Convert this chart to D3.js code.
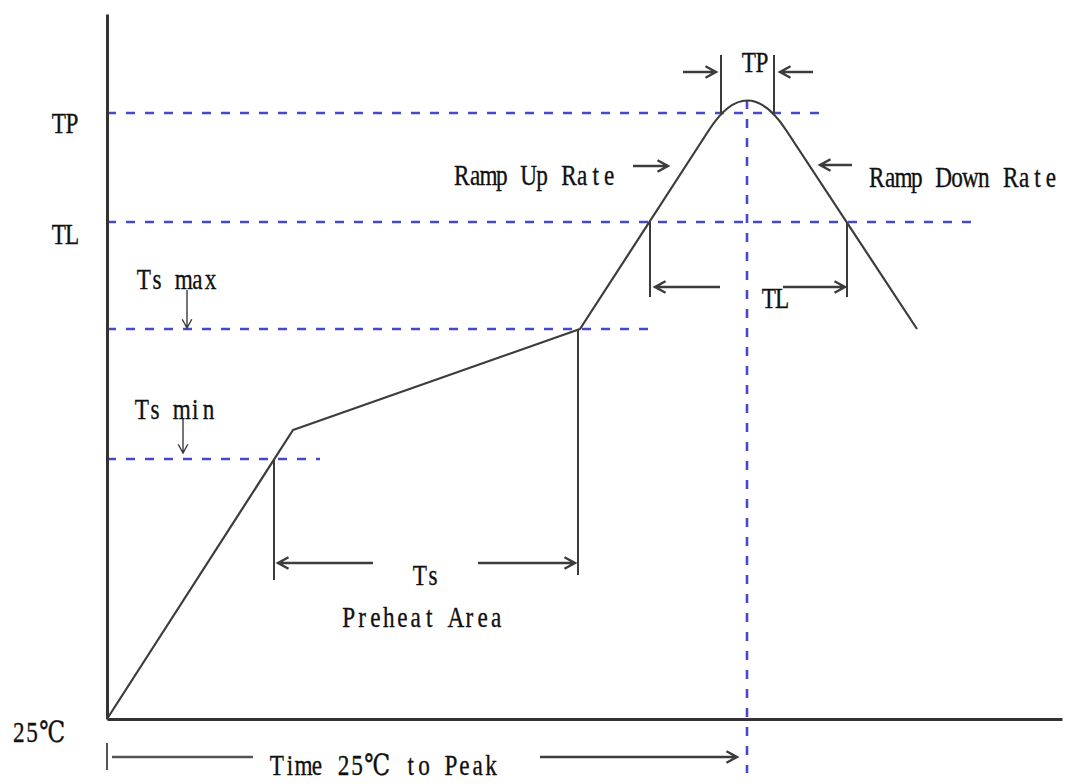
<!DOCTYPE html>
<html>
<head>
<meta charset="utf-8">
<script src="https://cdn.jsdelivr.net/npm/d3@7"></script>
<style>
  body { margin: 0; background: #fff; }
  text { font-family: "Liberation Serif", "DejaVu Serif", serif; fill: #111; stroke: #111; stroke-width: 0.35px; }
</style>
</head>
<body>
<script>
// reflow profile, in chart units (time right of origin, temperature above 25C line)
var levelNames = ["Ts min", "Ts max", "TL", "TP"];
var levelValues = [260, 390, 497, 606];
var levelDashEnd = [213, 548, 868, 713];

var profileTime = [0, 186, 473, 602, 640, 679, 810];
var profileTemp = [0, 289, 390, 589, 648, 589, 390];
var peakIndex = 4; // control point of the rounded top

var peakTime = 640, peakTemp = 619, peakDashBottom = -54;

// time marks dropped from the profile: [time, top, bottom]
var markTimes = [167, 471, 543, 740, 614, 667];
var markFrom = [260, 390, 497, 497, 606, 606];
var markTo = [139, 144, 422, 422, 664, 664];

// horizontal arrows: from, to (head), level
var arrowFrom = [266, 371, 613, 676, 576, 706, 526, 745, 433];
var arrowTo = [171, 468, 548, 738, 609, 673, 561, 713, 630];
var arrowAt = [156, 156, 432, 432, 647, 647, 553, 554, -38];

// small down arrows under "Ts max" / "Ts min"
var downTime = [80, 76];
var downFrom = [429, 300];
var downTo = [391, 266];

var width = 1066, height = 784;
var svg = d3.select('body').append('svg')
    .attr('width', width)
    .attr('height', height);

var x = d3.scaleLinear().domain([0, 955]).range([107, 1062]);
var y = d3.scaleLinear().domain([0, 705]).range([719, 14]);

var blue = '#4848cc', ink = '#3c3c3c';

// dashed level lines
svg.selectAll('.level')
    .data(levelValues)
    .enter().append('line')
    .attr('x1', x(0))
    .attr('x2', function(d, i) { return x(levelDashEnd[i]); })
    .attr('y1', function(d) { return y(d); })
    .attr('y2', function(d) { return y(d); })
    .attr('stroke', blue)
    .attr('stroke-width', 2.6)
    .attr('stroke-dasharray', '9,10');

// dashed line through the peak
svg.append('line')
    .attr('x1', x(peakTime)).attr('x2', x(peakTime))
    .attr('y1', y(peakTemp)).attr('y2', y(peakDashBottom))
    .attr('stroke', blue)
    .attr('stroke-width', 2.6)
    .attr('stroke-dasharray', '9,10');

// axes
var yAxis = d3.axisLeft(y).ticks(0).tickSizeOuter(0);
var xAxis = d3.axisBottom(x).ticks(0).tickSizeOuter(0);
svg.append('g').attr('transform', 'translate(' + x(0) + ',0)').call(yAxis);
svg.append('g').attr('transform', 'translate(0,' + y(0) + ')').call(xAxis);
svg.selectAll('.domain').attr('stroke', '#333').attr('stroke-width', 3);

// profile: straight ramps, rounded peak
var p = d3.path();
p.moveTo(x(profileTime[0]), y(profileTemp[0]));
for (var i = 1; i < profileTime.length; i++) {
    if (i == peakIndex) {
        p.quadraticCurveTo(x(profileTime[i]), y(profileTemp[i]),
            x(profileTime[i + 1]), y(profileTemp[i + 1]));
        i++;
    } else {
        p.lineTo(x(profileTime[i]), y(profileTemp[i]));
    }
}
svg.append('path')
    .attr('d', p.toString())
    .attr('fill', 'none')
    .attr('stroke', ink)
    .attr('stroke-width', 2.2)
    .attr('stroke-linejoin', 'round');

// vertical time marks
svg.selectAll('.mark')
    .data(markTimes)
    .enter().append('line')
    .attr('x1', function(d) { return x(d); })
    .attr('x2', function(d) { return x(d); })
    .attr('y1', function(d, i) { return y(markFrom[i]); })
    .attr('y2', function(d, i) { return y(markTo[i]); })
    .attr('stroke', ink)
    .attr('stroke-width', 2);

function arrowPath(x1, y1, x2, y2, head) {
    var a = Math.atan2(y2 - y1, x2 - x1);
    var q = d3.path();
    q.moveTo(x1, y1);
    q.lineTo(x2, y2);
    q.moveTo(x2 - head * Math.cos(a - 0.5), y2 - head * Math.sin(a - 0.5));
    q.lineTo(x2, y2);
    q.lineTo(x2 - head * Math.cos(a + 0.5), y2 - head * Math.sin(a + 0.5));
    return q.toString();
}

svg.selectAll('.harrow')
    .data(arrowFrom)
    .enter().append('path')
    .attr('d', function(d, i) {
        return arrowPath(x(d), y(arrowAt[i]), x(arrowTo[i]), y(arrowAt[i]), 12);
    })
    .attr('fill', 'none')
    .attr('stroke', ink)
    .attr('stroke-width', 2.4);

svg.selectAll('.varrow')
    .data(downTime)
    .enter().append('path')
    .attr('d', function(d, i) {
        return arrowPath(x(d), y(downFrom[i]), x(d), y(downTo[i]), 10);
    })
    .attr('fill', 'none')
    .attr('stroke', ink)
    .attr('stroke-width', 1.4);

// bottom "time to peak" bar: start tick and left segment
svg.append('line')
    .attr('x1', x(0)).attr('x2', x(0))
    .attr('y1', y(-24)).attr('y2', y(-51))
    .attr('stroke', '#555').attr('stroke-width', 2);
svg.append('line')
    .attr('x1', x(5)).attr('x2', x(146))
    .attr('y1', y(-38)).attr('y2', y(-38))
    .attr('stroke', '#555').attr('stroke-width', 2.4);

// labels: text, left time, baseline temp
var labels = [
    ["TP", -55, 586],
    ["TL", -55, 475],
    ["Ts max", 30, 430],
    ["Ts min", 28, 300],
    ["Ts", 306, 134],
    ["Preheat Area", 235, 92],
    ["Ramp Up Rate", 348, 534],
    ["Ramp Down Rate", 763, 532],
    ["TP", 635, 647],
    ["TL", 655, 411],
    ["25\u2103", -95, -23],
    ["Time 25\u2103 to Peak", 163, -56]
];

// fixed-pitch look: one cell per character (two for the degree sign), glyphs narrowed
var cell = 13.4, squeeze = 0.8;
function cellCenters(s) {
    var out = [], pos = 0;
    for (var k = 0; k < s.length; k++) {
        var w = s[k] == '\u2103' ? 2 : 1;
        out.push(((pos + w / 2) * cell / squeeze).toFixed(1));
        pos += w;
    }
    return out.join(' ');
}

svg.selectAll('.label')
    .data(labels)
    .enter().append('text')
    .attr('transform', function(d) {
        return 'translate(' + x(d[1]) + ',' + y(d[2]) + ') scale(' + squeeze + ',1)';
    })
    .attr('x', function(d) { return cellCenters(d[0]); })
    .attr('y', 0)
    .attr('text-anchor', 'middle')
    .attr('font-size', 29)
    .text(function(d) { return d[0]; });
</script>
</body>
</html>
